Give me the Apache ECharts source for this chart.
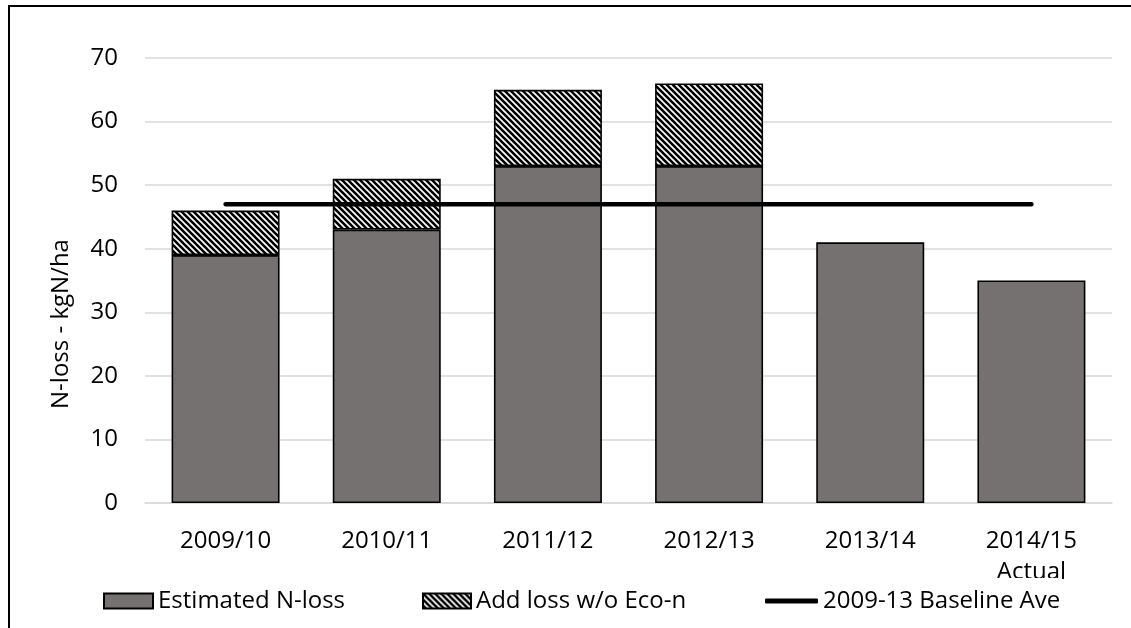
<!DOCTYPE html>
<html>
<head>
<meta charset="utf-8">
<title>N-loss by season</title>
<script src="https://cdn.jsdelivr.net/npm/echarts@6/dist/echarts.min.js"></script>
<style>
  html, body { margin: 0; padding: 0; background: #fff; }
  #chart { width: 1131px; height: 628px; }
</style>
</head>
<body>
<div id="chart"></div>
<script>
// Seasons on the category axis
const seasons = ['2009/10', '2010/11', '2011/12', '2012/13', '2013/14', '2014/15\nActual'];
// Estimated N-loss (kgN/ha)
const estimatedLoss = [39, 43, 53, 53, 41, 35];
// Additional loss without Eco-n (kgN/ha); none for the last two seasons
const addLossNoEcoN = [7, 8, 12, 13, null, null];
// 2009-13 baseline average (kgN/ha)
const baselineAve = [47, 47, 47, 47, 47, 47];
// Value axis ticks
const yTicks = { min: 0, max: 70, interval: 10 };

const FONT = 'Open Sans';

// Black/white downward-diagonal hatch tile
function hatchTile() {
  const size = 6;
  const c = document.createElement('canvas');
  c.width = size; c.height = size;
  const ctx = c.getContext('2d');
  ctx.fillStyle = '#fff';
  ctx.fillRect(0, 0, size, size);
  ctx.strokeStyle = '#000';
  ctx.lineWidth = 2.6;
  ctx.beginPath();
  for (let k = -1; k <= 1; k++) {
    ctx.moveTo(k * size - 1, -1);
    ctx.lineTo(k * size + size + 1, size + 1);
  }
  ctx.stroke();
  return c;
}
const hatch = { image: hatchTile(), repeat: 'repeat' };

const legendText = { fontFamily: FONT, fontSize: 24, color: '#000' };

const chart = echarts.init(document.getElementById('chart'), null, { renderer: 'canvas' });
chart.setOption({
  animation: false,
  backgroundColor: '#fff',
  textStyle: { fontFamily: FONT },
  grid: { left: 145, right: 19, top: 58, bottom: 125, containLabel: false },
  graphic: [
    {
      type: 'rect', z: 100, silent: true,
      shape: { x: 9, y: 6, width: 1300, height: 800 },
      style: { fill: null, stroke: '#000', lineWidth: 2 }
    },
    {
      type: 'text', silent: true,
      x: 61, y: 324, rotation: Math.PI / 2,
      style: {
        text: 'N-loss - kgN/ha', fontFamily: FONT, fontSize: 24, fill: '#000',
        align: 'center', verticalAlign: 'middle'
      }
    }
  ],
  legend: [
    {
      data: [{ name: 'Estimated N-loss', icon: 'rect' }], left: 103, top: 589,
      padding: [0, 0, 0, 0],
      itemWidth: 49, itemHeight: 15, itemGap: 0, textStyle: legendText,
      backgroundColor: '#fff'
    },
    {
      data: [{ name: 'Add loss w/o Eco-n', icon: 'rect' }], left: 422, top: 589,
      padding: [0, 0, 0, 0],
      itemWidth: 48, itemHeight: 15, itemGap: 0, textStyle: legendText,
      backgroundColor: '#fff'
    },
    {
      data: [{ name: '2009-13 Baseline Ave', icon: 'roundRect' }], left: 765, top: 578,
      padding: [11, 0, 0, 0],
      itemWidth: 53, itemHeight: 5, itemGap: 0, textStyle: legendText,
      backgroundColor: '#fff'
    }
  ],
  xAxis: {
    type: 'category',
    data: seasons,
    axisLine: { show: true, lineStyle: { color: '#d9d9d9', width: 1.5 } },
    axisTick: { show: false },
    axisLabel: {
      fontFamily: FONT, fontSize: 24, color: '#000', margin: 23,
      lineHeight: 31, interval: 0
    }
  },
  yAxis: {
    type: 'value',
    min: yTicks.min, max: yTicks.max, interval: yTicks.interval,
    axisLine: { show: false },
    axisTick: { show: false },
    axisLabel: { fontFamily: FONT, fontSize: 24, color: '#000', margin: 27 },
    splitLine: { lineStyle: { color: '#d9d9d9', width: 1.5 } }
  },
  series: [
    {
      name: 'Estimated N-loss',
      type: 'bar', stack: 'loss', barWidth: '67%',
      data: estimatedLoss,
      itemStyle: { color: '#767171', borderColor: '#000', borderWidth: 1.6 }
    },
    {
      name: 'Add loss w/o Eco-n',
      type: 'bar', stack: 'loss', barWidth: '67%',
      data: addLossNoEcoN,
      itemStyle: { color: hatch, borderColor: '#000', borderWidth: 1.6 }
    },
    {
      name: '2009-13 Baseline Ave',
      type: 'line',
      data: baselineAve,
      symbol: 'none',
      z: 5,
      itemStyle: { color: '#000' },
      lineStyle: { color: '#000', width: 4.5, cap: 'round' }
    }
  ]
});
</script>
</body>
</html>
